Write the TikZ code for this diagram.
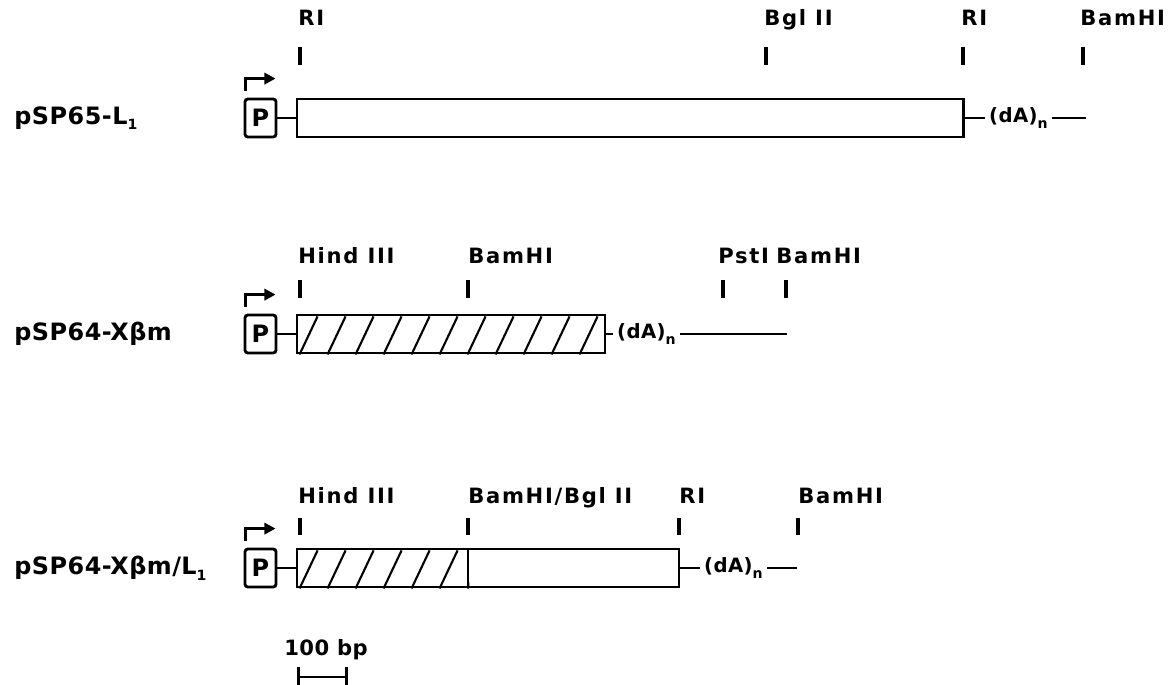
\documentclass[tikz,border=0pt]{standalone}
\usepackage{fontspec}
\setmainfont{DejaVu Sans}
\newfontfamily\sitefont{DejaVu Sans}[LetterSpace=8]
\newfontfamily\namefont{DejaVu Sans}[LetterSpace=2]
\newcommand{\lowsub}[1]{\raisebox{-4pt}{\fontsize{10}{10}\selectfont #1}}
\usetikzlibrary{positioning}
\usetikzlibrary{calc}
\usetikzlibrary{arrows.meta}

\begin{document}
\begin{tikzpicture}[
    x=0.025cm, y=-0.025cm,
    line width=2pt,
    plasmid/.style={anchor=west, inner sep=0pt, font=\namefont\bfseries\fontsize{17}{19}\selectfont},
    prom/.style={rectangle, draw, rounded corners=2pt, minimum width=0.775cm, minimum height=0.95cm,
                 inner sep=0pt, font=\namefont\bfseries\fontsize{17}{19}\selectfont},
    insert/.style={rectangle, draw, minimum height=0.95cm, inner sep=0pt},
    site/.style={anchor=base west, inner sep=0pt, font=\sitefont\bfseries\fontsize{15}{17}\selectfont},
    polyA/.style={anchor=west, inner xsep=2pt, inner ysep=0pt, text height=10pt, text depth=3pt,
                  font=\namefont\bfseries\fontsize{14}{16}\selectfont},
    tick/.style={line width=2.4pt},
    hatch/.style={line width=1.5pt},
    start/.style={-{Triangle[length=8pt,width=8pt]}, line width=2.4pt}
]
    \useasboundingbox (0,0) rectangle (1174,684);

    % pSP65-L1
    \node[plasmid] (pl1) at (13,118) {pSP65-L\lowsub{1}};
    \node[prom] (p1) at (260.5,118) {P};
    \node[insert, minimum width=16.65cm] (ins1) at (630,118) {};
    \node[polyA] (da1) at (985,118) {(dA)\lowsub{n}};
    \coordinate (end1) at (1086,118);
    \draw (p1) -- (ins1);
    \draw (ins1) -- (da1);
    \draw (da1) -- (end1);
    \draw[start] ($(p1.north west)+(2,-7)$) -- ++(0,-12) -- ++(30,0);
    \foreach \x/\lx/\t in {300/297/RI, 766/763/Bgl II, 963/960/RI, 1083/1079/BamHI} {
        \node[site] at (\lx,25) {\t};
        \draw[tick] (\x,47) -- (\x,65);
    }

    % pSP64-Xbm
    \node[plasmid] (pl2) at (13,334) {pSP64-Xβm};
    \node[prom] (p2) at (260.5,334) {P};
    \node[insert, minimum width=7.7cm] (ins2) at (451,334) {};
    \node[polyA] (da2) at (613,334) {(dA)\lowsub{n}};
    \coordinate (end2) at (787,334);
    \draw (p2) -- (ins2);
    \draw (ins2) -- (da2);
    \draw (da2) -- (end2);
    \draw[start] ($(p2.north west)+(2,-7)$) -- ++(0,-12) -- ++(30,0);
    \begin{scope}
        \clip (ins2.south west) rectangle (ins2.north east);
        \foreach \k in {0,...,11}
            \draw[hatch] ($(ins2.south west)+(\k*28+4,0)$) -- ++(18,-38);
    \end{scope}
    \foreach \x/\lx/\t in {300/297/Hind III, 468/467/BamHI, 723/717/PstI, 786/775/BamHI} {
        \node[site] at (\lx,263) {\t};
        \draw[tick] (\x,280) -- (\x,298);
    }

    % pSP64-Xbm/L1
    \node[plasmid] (pl3) at (13,568) {pSP64-Xβm/L\lowsub{1}};
    \node[prom] (p3) at (260.5,568) {P};
    \node[insert, minimum width=4.275cm] (ins3a) at (382.5,568) {};
    \node[insert, minimum width=5.275cm] (ins3b) at (573.5,568) {};
    \node[polyA] (da3) at (700,568) {(dA)\lowsub{n}};
    \coordinate (end3) at (797,568);
    \draw (p3) -- (ins3a);
    \draw (ins3b) -- (da3);
    \draw (da3) -- (end3);
    \draw[start] ($(p3.north west)+(2,-7)$) -- ++(0,-12) -- ++(30,0);
    \begin{scope}
        \clip (ins3a.south west) rectangle (ins3a.north east);
        \foreach \k in {0,...,6}
            \draw[hatch] ($(ins3a.south west)+(\k*28+4,0)$) -- ++(18,-38);
    \end{scope}
    \foreach \x/\lx/\t in {300/297/Hind III, 468/467/{BamHI/Bgl II}, 679/678/RI, 798/797/BamHI} {
        \node[site] at (\lx,503) {\t};
        \draw[tick] (\x,518) -- (\x,535);
    }

    % scale
    \node[site, font=\namefont\bfseries\fontsize{15}{17}\selectfont] (scale) at (283,655) {100 bp};
    \coordinate (sbl) at (297,677);
    \coordinate (sbr) at (348,677);
    \draw[{Bar[width=14pt]}-{Bar[width=14pt]}] (sbl) -- (sbr);
\end{tikzpicture}
\end{document}
